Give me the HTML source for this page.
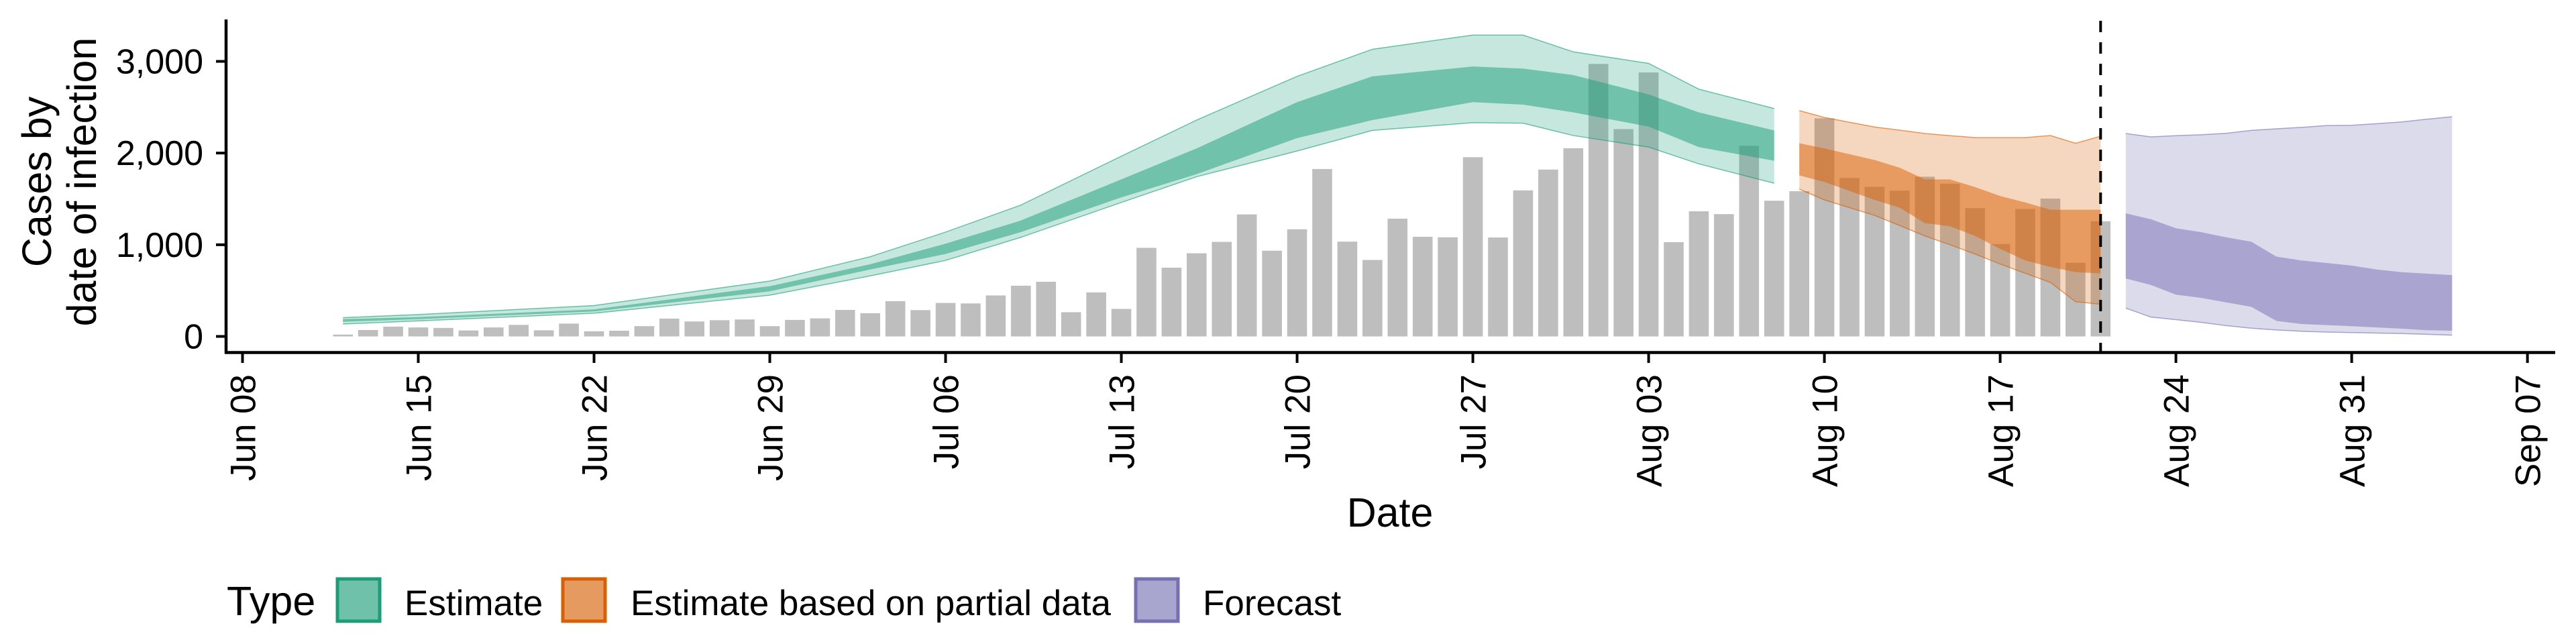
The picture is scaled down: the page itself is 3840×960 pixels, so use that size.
<!DOCTYPE html>
<html><head><meta charset="utf-8"><style>
html,body{margin:0;padding:0;background:#fff}
svg{display:block;font-family:"Liberation Sans",Arial,sans-serif}
</style></head><body>
<svg id="chart" width="3840" height="960" viewBox="0 0 3840 960" xmlns="http://www.w3.org/2000/svg">
<g id="bars"></g>
<g id="ribbons"></g>
<g id="axes"></g>
<text x="2072" y="785" font-size="61" text-anchor="middle">Date</text>
<text transform="translate(76,271) rotate(-90)" font-size="61" text-anchor="middle">Cases by</text>
<text transform="translate(143,271) rotate(-90)" font-size="61" text-anchor="middle">date of infection</text>
<g>
<text x="338" y="917" font-size="61">Type</text>
<g>
<rect x="503" y="863" width="63" height="63" fill="#6fc1a9" stroke="#1b9e77" stroke-width="5"/>
<text x="603" y="917" font-size="53">Estimate</text></g>
<g>
<rect x="839" y="863" width="63" height="63" fill="#e59a60" stroke="#d95f02" stroke-width="5"/>
<text x="940" y="917" font-size="53">Estimate based on partial data</text></g>
<g>
<rect x="1693" y="863" width="63" height="63" fill="#a8a5cf" stroke="#7570b3" stroke-width="5"/>
<text x="1793" y="917" font-size="53">Forecast</text></g>
</g>
</svg>
<script>
// Observed cases (Jun 12 .. Aug 21), day index relative to Jun 08
const barStartDay = 4;
const barValues = [20,70,107,98,93,65,98,126,67,140,56,62,112,194,163,177,185,112,180,
197,289,253,385,287,365,360,447,553,596,264,480,300,966,750,907,1031,1331,935,1169,1826,1034,834,1284,1087,1081,1955,1079,1593,1820,2053,
2972,2261,2879,1028,1365,1334,2079,1480,1584,2379,1728,1632,1590,1742,1666,1399,1008,1390,1503,803,1256];
// Estimate ribbon
const estDays = [4,7,14,21,25,28,31,35,38,42,45,49,51,53,56,58,61];
const estUpper90 = [205,239,337,604,870,1138,1433,1966,2360,2837,3132,3287,3287,3104,2978,2697,2486];
const estUpper50 = [188,211,295,548,787,1011,1264,1713,2051,2556,2837,2944,2921,2851,2640,2444,2247];
const estLower50 = [160,188,272,492,730,899,1138,1517,1770,2163,2360,2556,2528,2444,2289,2065,1916];
const estLower90 = [135,169,253,450,660,829,1081,1461,1742,2022,2247,2331,2326,2191,2065,1882,1671];
// Partial-data ribbon
const partDays = [62,63,65,66,67,68,69,70,71,72,73,74];
const partUpper90 = [2463,2388,2284,2250,2213,2190,2169,2169,2169,2191,2107,2183];
const partUpper50 = [2107,2051,1924,1840,1713,1713,1629,1531,1461,1382,1382,1382];
const partLower50 = [1756,1685,1489,1404,1236,1202,1096,955,829,758,702,688];
const partLower90 = [1607,1489,1320,1210,1096,1000,899,790,688,590,379,351];
// Forecast ribbon
const fcDays = [75,76,77,78,79,80,81,82,83,84,85,86,87,88];
const fcUpper90 = [2213,2177,2190,2200,2215,2247,2265,2280,2300,2303,2320,2340,2370,2396];
const fcUpper50 = [1343,1278,1180,1138,1081,1034,871,829,801,773,730,700,685,669];
const fcLower50 = [632,562,455,421,371,323,169,135,124,112,98,84,67,62];
const fcLower90 = [309,211,183,154,118,90,70,56,48,42,37,31,23,14];
// Axis ticks
const xTickDays = [0,7,14,21,28,35,42,49,56,63,70,77,84,91];
const xTickLabels = ["Jun 08","Jun 15","Jun 22","Jun 29","Jul 06","Jul 13","Jul 20","Jul 27","Aug 03","Aug 10","Aug 17","Aug 24","Aug 31","Sep 07"];
const yTickValues = [0,1000,2000,3000];
const yTickLabels = ["0","1,000","2,000","3,000"];
const forecastDay = 74;

const NS = "http://www.w3.org/2000/svg";
const X = d => 361.5 + d * 37.43;
const Y = v => 501.5 - v * 0.13667;
function mk(tag, attrs, parent){ const e=document.createElementNS(NS,tag); for(const k in attrs) e.setAttribute(k,attrs[k]); parent.appendChild(e); return e; }

const gb = document.getElementById('bars');
barValues.forEach((v,i)=>{
  const d = barStartDay + i;
  const r = mk('rect',{x:X(d)-14.8,y:Y(v),width:29.6,height:Y(0)-Y(v),fill:'#bebebe'},gb);
  
  
});

const gr = document.getElementById('ribbons');
function ribbon(days, lo, hi, fill, op, stroke, name){
  let p = days.map((d,i)=>(i?'L':'M')+X(d).toFixed(1)+','+Y(hi[i]).toFixed(1)).join('');
  for(let i=days.length-1;i>=0;i--) p += 'L'+X(days[i]).toFixed(1)+','+Y(lo[i]).toFixed(1);
  p += 'Z';
  const e = mk('path',{d:p,fill:fill,'fill-opacity':op,stroke:'none'},gr);
  
  
  if(stroke){
    const l1 = mk('path',{d:days.map((d,i)=>(i?'L':'M')+X(d)+','+Y(hi[i])).join(''),fill:'none',stroke:stroke,'stroke-width':1.5,'stroke-opacity':0.6},gr);
    
    
    const l2 = mk('path',{d:days.map((d,i)=>(i?'L':'M')+X(d)+','+Y(lo[i])).join(''),fill:'none',stroke:stroke,'stroke-width':1.5,'stroke-opacity':0.6},gr);
    
    
  }
}
ribbon(estDays, estLower90, estUpper90, '#1b9e77', 0.25, '#1b9e77', 'estimate-ribbon-90');
ribbon(estDays, estLower50, estUpper50, '#1b9e77', 0.5, null, 'estimate-ribbon-50');
ribbon(partDays, partLower90, partUpper90, '#d95f02', 0.25, '#d95f02', 'partial-ribbon-90');
ribbon(partDays, partLower50, partUpper50, '#d95f02', 0.5, null, 'partial-ribbon-50');
ribbon(fcDays, fcLower90, fcUpper90, '#7570b3', 0.25, '#7570b3', 'forecast-ribbon-90');
ribbon(fcDays, fcLower50, fcUpper50, '#7570b3', 0.5, null, 'forecast-ribbon-50');

const ga = document.getElementById('axes');
const dl = mk('line',{x1:X(forecastDay),x2:X(forecastDay),y1:31,y2:524,stroke:'#000','stroke-width':4,'stroke-dasharray':'17 15'},ga);


const ya = mk('line',{x1:337,x2:337,y1:29,y2:527,stroke:'#000','stroke-width':4.5},ga);


const xa = mk('line',{x1:335,x2:3809,y1:525.5,y2:525.5,stroke:'#000','stroke-width':4.5},ga);


yTickValues.forEach((v,i)=>{
  const t = mk('line',{x1:322,x2:337,y1:Y(v),y2:Y(v),stroke:'#000','stroke-width':4},ga);
  
  
  const l = mk('text',{x:303,y:Y(v)+18,'font-size':52,'text-anchor':'end'},ga);
  l.textContent = yTickLabels[i];
  
  
});
xTickDays.forEach((d,i)=>{
  const x = X(d);
  const t = mk('line',{x1:x,x2:x,y1:525,y2:541,stroke:'#000','stroke-width':4},ga);
  
  
  const l = mk('text',{transform:`translate(${x+19},558) rotate(-90)`,'font-size':53,'text-anchor':'end'},ga);
  l.textContent = xTickLabels[i];
  
  
});
</script>
</body></html>
